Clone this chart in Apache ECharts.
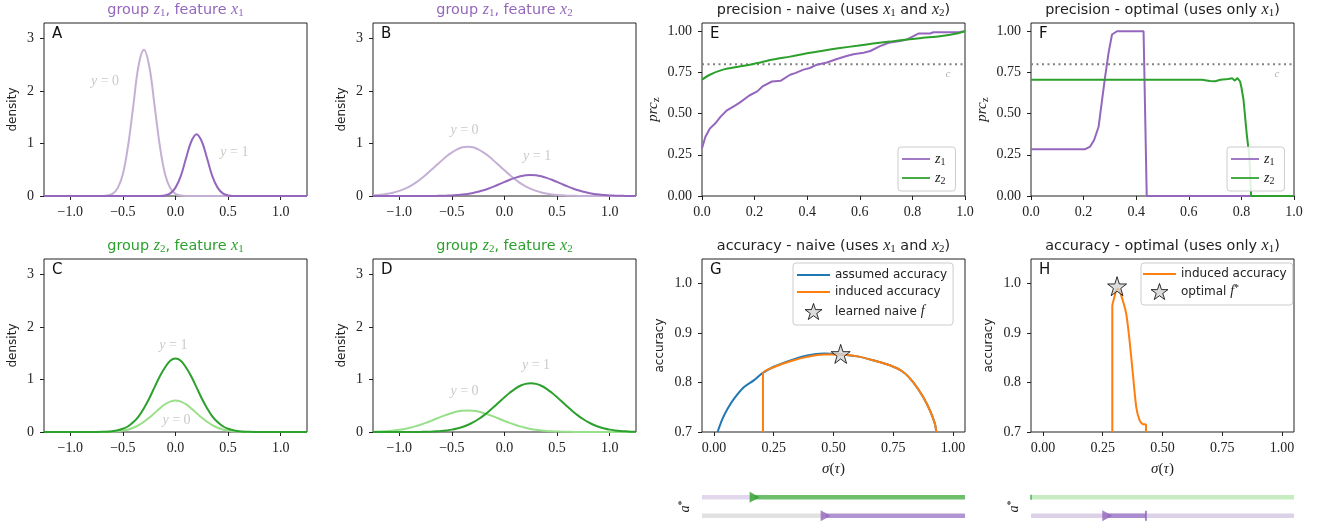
<!DOCTYPE html>
<html><head><meta charset="utf-8">
<script src="https://cdn.jsdelivr.net/npm/echarts@6/dist/echarts.min.js"></script>
<style>html,body{margin:0;padding:0;background:#fff}#c{width:1317px;height:522px}</style>
</head><body><div id="c"></div>
<script>
// ---------------- DATA ----------------
const densX = [-1.25,-1.2,-1.15,-1.1,-1.05,-1.0,-0.95,-0.9,-0.85,-0.8,-0.75,-0.7,-0.65,-0.6,-0.55,-0.5,-0.45,-0.4,-0.35,-0.3,-0.25,-0.2,-0.15,-0.1,-0.05,0,0.05,0.1,0.15,0.2,0.25,0.3,0.35,0.4,0.45,0.5,0.55,0.6,0.65,0.7,0.75,0.8,0.85,0.9,0.95,1.0,1.05,1.1,1.15,1.2,1.25];
// panel A: group z1, feature x1
const aY0 = [0,0,0,0,0,0,0,0,0,0,0, 0.001,0.01,0.04,0.15,0.42,0.97,1.74,2.50,2.79,2.48,1.74,0.97,0.42,0.15,0.04,0.01,0.001, 0,0,0,0,0,0,0,0,0,0,0,0,0,0,0,0,0,0,0,0,0,0,0];
const aY1 = [0,0,0,0,0,0,0,0,0,0,0,0,0,0,0,0,0,0,0,0,0,0, 0,0.01,0.05,0.16,0.38,0.72,1.04,1.18,1.04,0.72,0.38,0.16,0.05,0.01, 0,0,0,0,0,0,0,0,0,0,0,0,0,0,0];
// panel B: group z1, feature x2
const bY0 = [0.012,0.019,0.030,0.046,0.067,0.097,0.136,0.185,0.245,0.32,0.40,0.49,0.58,0.67,0.76,0.83,0.89,0.93,0.94,0.93,0.89,0.83,0.76,0.67,0.58,0.49,0.40,0.32,0.245,0.185,0.136,0.097,0.067,0.046,0.030,0.019,0.012,0.007,0.004,0.002,0.001, 0,0,0,0,0,0,0,0,0,0];
const bY1 = [0,0,0,0,0,0,0,0,0,0,0, 0.001,0.002,0.004,0.007,0.011,0.018,0.027,0.040,0.058,0.081,0.11,0.144,0.183,0.225,0.268,0.31,0.346,0.375,0.394,0.40,0.394,0.375,0.346,0.31,0.268,0.225,0.183,0.144,0.11,0.081,0.058,0.040,0.027,0.018,0.011,0.007,0.004,0.002,0.001,0];
// panel C: group z2, feature x1
const cY0 = [0,0,0,0,0,0,0,0,0,0, 0,0.001,0.003,0.007,0.014,0.026,0.048,0.081,0.13,0.195,0.27,0.36,0.45,0.53,0.58,0.60,0.58,0.53,0.45,0.36,0.27,0.195,0.13,0.081,0.048,0.026,0.014,0.007,0.003,0.001,0, 0,0,0,0,0,0,0,0,0,0];
const cY1 = [0,0,0,0,0,0,0,0,0,0, 0.001,0.003,0.007,0.016,0.032,0.062,0.11,0.19,0.30,0.455,0.64,0.85,1.06,1.23,1.36,1.40,1.36,1.23,1.06,0.85,0.64,0.455,0.30,0.19,0.11,0.062,0.032,0.016,0.007,0.003,0.001, 0,0,0,0,0,0,0,0,0,0];
// panel D: group z2, feature x2
const dY0 = [0.005,0.009,0.013,0.02,0.03,0.042,0.059,0.081,0.107,0.138,0.173,0.212,0.253,0.293,0.33,0.363,0.39,0.405,0.41,0.405,0.39,0.363,0.33,0.293,0.253,0.212,0.173,0.138,0.107,0.081,0.059,0.042,0.03,0.02,0.013,0.009,0.005,0.003,0.002,0.001, 0,0,0,0,0,0,0,0,0,0,0];
const dY1 = [0,0,0,0,0,0,0,0, 0.001,0.002,0.004,0.007,0.012,0.019,0.030,0.045,0.067,0.096,0.134,0.183,0.243,0.313,0.393,0.481,0.573,0.665,0.75,0.824,0.882,0.918,0.93,0.918,0.882,0.824,0.75,0.665,0.573,0.481,0.393,0.313,0.243,0.183,0.134,0.096,0.067,0.045,0.030,0.019,0.012,0.007,0.004];
// curve annotations [x, y, text]
const annA = [[-0.67,2.18,'y = 0'],[0.56,0.84,'y = 1']];
const annB = [[-0.38,1.26,'y = 0'],[0.31,0.75,'y = 1']];
const annC = [[-0.02,1.66,'y = 1'],[0.01,0.22,'y = 0']];
const annD = [[0.30,1.28,'y = 1'],[-0.38,0.77,'y = 0']];

// panel E: precision naive
const eZ1x = [0,0.013,0.03,0.05,0.07,0.095,0.127,0.146,0.18,0.21,0.23,0.266,0.30,0.335,0.354,0.386,0.41,0.437,0.475,0.51,0.55,0.576,0.614,0.64,0.677,0.71,0.753,0.78,0.804,0.823,0.867,0.88,0.93,0.98,1.0];
const eZ1y = [0.29,0.36,0.41,0.44,0.48,0.52,0.55,0.57,0.61,0.635,0.665,0.695,0.70,0.736,0.746,0.767,0.777,0.797,0.81,0.83,0.85,0.86,0.87,0.88,0.91,0.93,0.94,0.95,0.97,0.986,0.986,0.994,0.994,0.996,1.0];
const eZ2x = [0,0.03,0.08,0.146,0.2,0.27,0.335,0.4,0.46,0.525,0.59,0.65,0.715,0.78,0.84,0.905,0.968,1.0];
const eZ2y = [0.706,0.736,0.767,0.787,0.803,0.828,0.846,0.866,0.882,0.898,0.912,0.925,0.937,0.95,0.96,0.97,0.986,1.0];
// panel F: precision optimal
const fZ1x = [0,0.206,0.225,0.24,0.257,0.27,0.282,0.295,0.308,0.327,0.428,0.44,1.0];
const fZ1y = [0.284,0.284,0.30,0.34,0.42,0.58,0.726,0.87,0.98,1.0,1.0,0,0];
const fZ2x = [0,0.65,0.68,0.70,0.72,0.75,0.765,0.775,0.785,0.795,0.80,0.808,0.82,0.83,0.837,1.0];
const fZ2y = [0.706,0.706,0.698,0.697,0.705,0.71,0.714,0.70,0.716,0.695,0.66,0.584,0.38,0.24,0,0];
const cThreshold = 0.8;
const cLabel = [[0.935,0.742,'c']];

// panel G: accuracy naive
const gAssumedX = [0.015,0.036,0.057,0.085,0.126,0.168,0.2,0.25,0.32,0.39,0.46,0.53,0.6,0.667,0.736,0.79,0.833,0.875,0.903,0.924,0.93];
const gAssumedY = [0.70,0.727,0.747,0.768,0.791,0.805,0.818,0.832,0.845,0.855,0.859,0.857,0.853,0.845,0.835,0.822,0.801,0.771,0.744,0.717,0.70];
const gInducedX = [0.205,0.205,0.25,0.32,0.39,0.46,0.53,0.6,0.667,0.736,0.79,0.833,0.875,0.903,0.924,0.93];
const gInducedY = [0.70,0.818,0.831,0.843,0.852,0.857,0.857,0.853,0.845,0.835,0.822,0.801,0.771,0.744,0.717,0.70];
const gStar = [0.53,0.858];
// panel H: accuracy optimal
const hInducedX = [0.29,0.29,0.30,0.306,0.315,0.327,0.348,0.362,0.376,0.39,0.404,0.417,0.431,0.431];
const hInducedY = [0.70,0.955,0.975,0.987,0.99,0.977,0.94,0.886,0.818,0.751,0.724,0.716,0.715,0.70];
const hStar = [0.31,0.995];

// a* strips: thresholds (where each group starts being accepted)
const naiveZ2Start = 0.2, naiveZ1Start = 0.47;
const optZ1Start = 0.29, optZ1End = 0.437, optZ2Start = 0;

// tick values
const densXTicks = [-1,-0.5,0,0.5,1], densYTicks = [0,1,2,3];
const precXTicks = [0,0.2,0.4,0.6,0.8,1], precYTicks = [0,0.25,0.5,0.75,1];
const accXTicks = [0,0.25,0.5,0.75,1], accYTicks = [0.7,0.8,0.9,1.0];

// ---------------- STYLE / LAYOUT ----------------
const PURPLE='#9467bd', PURPLE_L='#c5b0d5', GREEN='#2ca02c', GREEN_L='#98df8a', BLUE='#1f77b4', ORANGE='#ff7f0e';
const SERIF='Liberation Serif', MATH='Liberation Serif', SANS='DejaVu Sans';
const AX='#222';
const W=263, H=173;
const grids = [
  {left:44, top:23, width:W, height:H},    // A
  {left:373, top:23, width:W, height:H},   // B
  {left:44, top:259, width:W, height:H},   // C
  {left:373, top:259, width:W, height:H},  // D
  {left:702, top:23, width:W, height:H},   // E
  {left:1031, top:23, width:W, height:H},  // F
  {left:702, top:259, width:W, height:H},  // G
  {left:1031, top:259, width:W, height:H}, // H
  {left:702, top:491, width:W, height:32}, // strip under G
  {left:1031, top:491, width:W, height:32} // strip under H
];
const STAR = 'path://M50,2 L61.8,37.6 L99,37.6 L69,59.6 L80.3,95 L50,73.2 L19.7,95 L31,59.6 L1,37.6 L38.2,37.6 Z';
const TRI_R = 'path://M0,0 L10,5 L0,10 Z';
const VBAR = 'path://M0,0 L2,0 L2,10 L0,10 Z';
const LINE_ICON = 'path://M0,0 L32,0 L32,2 L0,2 Z';
const STAR_STYLE = {color:'#d3d3d3', borderColor:'#000', borderWidth:1};

const fmt = d => v => v.toFixed(d).replace('-', '\u2212');
const mathRich = (size,color) => ({ m:{fontFamily:MATH, fontStyle:'italic', fontSize:size, color:color, lineHeight:size+2},
  s:{fontFamily:MATH, fontSize:Math.round(size*0.7), color:color, verticalAlign:'bottom', lineHeight:Math.round(size*0.6)},
  p:{fontFamily:MATH, fontSize:Math.round(size*0.7), color:color, verticalAlign:'top', lineHeight:Math.round(size*0.6)},
  n:{fontFamily:SERIF, fontSize:size, color:color, lineHeight:size+2}});

function axis(gi, min, max, ticks, digits, isX, extra) {
  const a = {
    gridIndex: gi, type:'value', min, max,
    axisLine:{show:false, onZero:false},
    axisTick:{show:true, length:4, customValues:ticks, lineStyle:{color:AX, width:1}},
    axisLabel:{show:true, customValues:ticks, formatter:fmt(digits), fontFamily:SERIF, fontSize:14, color:AX, margin: isX ? 9 : 10},
    splitLine:{show:false}
  };
  return Object.assign(a, extra || {});
}
const hidden = (gi,min,max,extra) => Object.assign({gridIndex:gi, type:'value', min, max, axisLine:{show:false, onZero:false}, axisTick:{show:false}, axisLabel:{show:false}, splitLine:{show:false}}, extra||{});

const densName = {name:'density', nameLocation:'middle', nameGap:25, nameRotate:90, nameTextStyle:{fontFamily:SANS, fontSize:12, color:AX}};
const sigmaName = {name:'{m|σ}{n|(}{m|τ}{n|)}', nameLocation:'middle', nameGap:29, nameTextStyle:{rich:mathRich(15,AX)}};
const xAxes = [
  axis(0,-1.25,1.25,densXTicks,1,true), axis(1,-1.25,1.25,densXTicks,1,true), axis(2,-1.25,1.25,densXTicks,1,true), axis(3,-1.25,1.25,densXTicks,1,true),
  axis(4,0,1,precXTicks,1,true), axis(5,0,1,precXTicks,1,true),
  axis(6,-0.05,1.05,accXTicks,2,true,sigmaName), axis(7,-0.05,1.05,accXTicks,2,true,sigmaName),
  hidden(8,0,1), hidden(9,0,1)
];
const prcName = {name:'{m|prc}{s|z}', nameLocation:'middle', nameGap:40, nameRotate:90, nameTextStyle:{rich:mathRich(15,AX)}};
const accName = {name:'accuracy', nameLocation:'middle', nameGap:36, nameRotate:90, nameTextStyle:{fontFamily:SANS, fontSize:12, color:AX}};
const aName = {name:'{m|a}{p|*}', nameLocation:'middle', nameGap:9, nameRotate:90, nameTextStyle:{rich:mathRich(14,AX)}};
const yAxes = [
  axis(0,0,3.3,densYTicks,0,false,densName), axis(1,0,3.3,densYTicks,0,false,densName), axis(2,0,3.3,densYTicks,0,false,densName), axis(3,0,3.3,densYTicks,0,false,densName),
  axis(4,0,1.05,precYTicks,2,false,prcName), axis(5,0,1.05,precYTicks,2,false,prcName),
  axis(6,0.7,1.05,accYTicks,1,false,accName), axis(7,0.7,1.05,accYTicks,1,false,accName),
  hidden(8,0,1,aName), hidden(9,0,1,aName)
];

const series = [];
const zip = (xs,ys) => xs.map((x,i)=>[x,ys[i]]);
function line(name, gi, data, color, width, extra) {
  series.push(Object.assign({type:'line', name, xAxisIndex:gi, yAxisIndex:gi, data, symbol:'none', showSymbol:false,
    lineStyle:{color, width}, itemStyle:{color}, silent:true, animation:false, clip:true}, extra||{}));
}
function notes(gi, arr, color, size) {
  series.push({type:'scatter', name:'note'+gi, xAxisIndex:gi, yAxisIndex:gi, symbolSize:1, itemStyle:{color:'rgba(0,0,0,0)'},
    silent:true, animation:false, z:5,
    data: arr.map(a=>({value:[a[0],a[1]], name:a[2]})),
    label:{show:true, position:'inside', formatter:p=>{ const t=p.name; return t.length>1 ? '{m|'+t[0]+'}{n|'+t.slice(1)+'}' : '{m|'+t+'}'; },
      rich: mathRich(size,color)}});
}
// densities
line('a0',0,zip(densX,aY0),PURPLE_L,2,{smooth:0.4});
line('a1',0,zip(densX,aY1),PURPLE,2,{smooth:0.4});
line('b0',1,zip(densX,bY0),PURPLE_L,2,{smooth:0.4});
line('b1',1,zip(densX,bY1),PURPLE,2,{smooth:0.4});
line('c0',2,zip(densX,cY0),GREEN_L,2,{smooth:0.4});
line('c1',2,zip(densX,cY1),GREEN,2,{smooth:0.4});
line('d0',3,zip(densX,dY0),GREEN_L,2,{smooth:0.4});
line('d1',3,zip(densX,dY1),GREEN,2,{smooth:0.4});
notes(0,annA,'#bdbdbd',14); notes(1,annB,'#bdbdbd',14); notes(2,annC,'#bdbdbd',14); notes(3,annD,'#bdbdbd',14);
// precision
[4,5].forEach(gi=>{
  line('c'+gi, gi, [[0,cThreshold],[1,cThreshold]], '#808080', 2, {lineStyle:{color:'#808080', width:2, type:[2,3.5]}});
  notes(gi, cLabel, '#9a9a9a', 11);
});
line('z1',4,zip(eZ1x,eZ1y),PURPLE,2);
line('z2',4,zip(eZ2x,eZ2y),GREEN,2,{smooth:0.3});
line('z1',5,zip(fZ1x,fZ1y),PURPLE,2);
line('z2',5,zip(fZ2x,fZ2y),GREEN,2);
// accuracy
line('assumed accuracy',6,zip(gAssumedX,gAssumedY),BLUE,2,{smooth:0.3});
line('induced accuracy',6,zip(gInducedX,gInducedY),ORANGE,2,{smooth:0.3, z:3});
line('induced accuracy',7,zip(hInducedX,hInducedY),ORANGE,2,{smooth:0.2});
series.push({type:'scatter', name:'learned naive f', xAxisIndex:6, yAxisIndex:6, data:[gStar], symbol:STAR, symbolSize:19,
  itemStyle:STAR_STYLE, z:6, silent:true, animation:false});
series.push({type:'scatter', name:'optimal f*', xAxisIndex:7, yAxisIndex:7, data:[hStar], symbol:STAR, symbolSize:19,
  itemStyle:STAR_STYLE, z:6, silent:true, animation:false});
// a* strips
const TOP=0.8, BOT=0.2, SW=4.5;
line('sg1',8,[[0,TOP],[naiveZ2Start,TOP]],'#e2d7ec',SW);
line('sg2',8,[[naiveZ2Start,TOP],[1,TOP]],'#6dbf6d',SW);
line('sg3',8,[[0,BOT],[naiveZ1Start,BOT]],'#e1e1e1',SW);
line('sg4',8,[[naiveZ1Start,BOT],[1,BOT]],'#b195d3',SW);
series.push({type:'scatter', name:'sgm', xAxisIndex:8, yAxisIndex:8, symbol:TRI_R, symbolSize:[10,11], silent:true, animation:false, z:5,
  data:[{value:[naiveZ2Start,TOP], itemStyle:{color:GREEN}}, {value:[naiveZ1Start,BOT], itemStyle:{color:PURPLE}}]});
line('sh1',9,[[0,TOP],[1,TOP]],'#c8ecc2',SW);
line('sh2',9,[[0,BOT],[1,BOT]],'#ddd1e8',SW);
line('sh3',9,[[optZ1Start,BOT],[optZ1End,BOT]],'#ab8cd0',SW);
series.push({type:'scatter', name:'shm', xAxisIndex:9, yAxisIndex:9, symbol:TRI_R, symbolSize:[10,11], silent:true, animation:false, z:5,
  data:[{value:[optZ1Start,BOT], itemStyle:{color:PURPLE}}]});
series.push({type:'scatter', name:'shv', xAxisIndex:9, yAxisIndex:9, symbol:VBAR, symbolSize:[2,10], silent:true, animation:false, z:5,
  data:[{value:[optZ1End,BOT], itemStyle:{color:PURPLE}}, {value:[optZ2Start,TOP], symbolSize:[1.5,5], itemStyle:{color:GREEN}}]});

// legends
const legBase = {orient:'vertical', backgroundColor:'rgba(255,255,255,0.85)', borderColor:'#cccccc', borderWidth:1, borderRadius:3,
  selectedMode:false, itemGap:6, symbolKeepAspect:true,
  textStyle:{fontFamily:SANS, fontSize:12, color:AX, rich:mathRich(14,AX)}};
const legNames = {'z1':'{m|z}{s|1}', 'z2':'{m|z}{s|2}', 'assumed accuracy':'assumed accuracy', 'induced accuracy':'induced accuracy',
  'learned naive f':'learned naive {m|f}', 'optimal f*':'optimal {m|f}{p|*}'};
const legFmt = n => legNames[n] || n;
const L = n => ({name:n, icon:LINE_ICON});
const S = n => ({name:n, icon:STAR, itemStyle:STAR_STYLE});
const legends = [
  Object.assign({}, legBase, {left:898, top:147, padding:[5,10,5,4], itemWidth:28, itemHeight:14, itemGap:4, data:[L('z1'),L('z2')], formatter:legFmt}),
  Object.assign({}, legBase, {left:1227, top:147, padding:[5,10,5,4], itemWidth:28, itemHeight:14, itemGap:4, data:[L('z1'),L('z2')], formatter:legFmt}),
  Object.assign({}, legBase, {left:793, top:263, padding:[6,6,5,4], itemWidth:33, itemHeight:16, itemGap:5,
    data:[L('assumed accuracy'),L('induced accuracy'),S('learned naive f')], formatter:legFmt}),
  Object.assign({}, legBase, {left:1141, top:263, padding:[5,6,5,2], itemWidth:33, itemHeight:16, itemGap:3,
    data:[L('induced accuracy'),S('optimal f*')], formatter:legFmt})
];

// titles & panel letters (graphic text)
const titles = [
  [0,'group ','z','1',', feature ','x','1',PURPLE,''],
  [1,'group ','z','1',', feature ','x','2',PURPLE,''],
  [2,'group ','z','2',', feature ','x','1',GREEN,''],
  [3,'group ','z','2',', feature ','x','2',GREEN,''],
  [4,'precision - naive (uses ','x','1',' and ','x','2',AX,')'],
  [5,'precision - optimal (uses only ','x','1',')','','',AX,''],
  [6,'accuracy - naive (uses ','x','1',' and ','x','2',AX,')'],
  [7,'accuracy - optimal (uses only ','x','1',')','','',AX,'']
];
const letters = ['A','B','C','D','E','F','G','H'];
const graphics = [];
titles.forEach(t=>{
  const g = grids[t[0]];
  const col = t[7];
  const txt = '{t|'+t[1]+'}{m|'+t[2]+'}{s|'+t[3]+'}{t|'+t[4]+'}'+(t[5]?'{m|'+t[5]+'}{s|'+t[6]+'}':'')+(t[8]?'{t|'+t[8]+'}':'');
  graphics.push({type:'text', x:g.left+g.width/2, y:g.top-13, silent:true,
    style:{text:txt, fill:col, align:'center', verticalAlign:'middle',
      rich:{t:{fontFamily:SANS, fontSize:14.4, fill:col, lineHeight:18},
            m:{fontFamily:MATH, fontStyle:'italic', fontSize:16, fill:col, lineHeight:18},
            s:{fontFamily:MATH, fontSize:11, fill:col, lineHeight:10, verticalAlign:'bottom'}}}});
});
letters.forEach((Lt,i)=>{
  const g = grids[i];
  graphics.push({type:'text', x:g.left+8, y:g.top+4, silent:true, style:{text:Lt, fill:'#111', font:'15px "DejaVu Sans"', align:'left', verticalAlign:'top'}});
});

const option = {
  animation:false,
  backgroundColor:'#fff',
  grid: grids.map((g,i)=>Object.assign({show:i<8, borderColor:AX, borderWidth:1, backgroundColor:'transparent', containLabel:false}, g)),
  xAxis: xAxes, yAxis: yAxes, series, legend: legends, graphic: graphics
};
const chart = echarts.init(document.getElementById('c'), null, {renderer:'canvas'});
chart.setOption(option);
</script></body></html>
